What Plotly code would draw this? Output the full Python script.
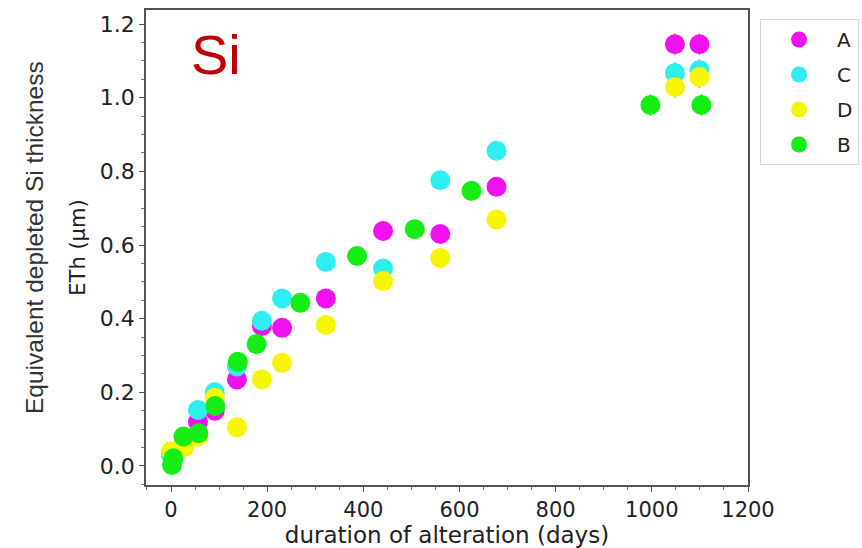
import plotly.graph_objects as go

# ---- data ----
a_days = [0, 28, 56, 91, 137, 189, 231, 322, 441, 560, 677, 1048, 1099]
a_eth = [0.035, 0.07, 0.12, 0.15, 0.235, 0.38, 0.375, 0.455, 0.638, 0.63, 0.758, 1.145, 1.145]
a_err = [0.01, 0.01, 0.01, 0.01, 0.01, 0.01, 0.01, 0.01, 0.01, 0.01, 0.01, 0.03, 0.03]

c_days = [0, 28, 56, 91, 137, 189, 231, 322, 441, 560, 677, 1048, 1099]
c_eth = [0.03, 0.06, 0.152, 0.2, 0.27, 0.394, 0.455, 0.554, 0.536, 0.776, 0.856, 1.067, 1.075]
c_err = [0.01, 0.01, 0.01, 0.01, 0.01, 0.01, 0.01, 0.01, 0.01, 0.01, 0.01, 0.03, 0.03]

d_days = [0, 28, 56, 91, 137, 189, 231, 322, 441, 560, 677, 1048, 1099]
d_eth = [0.04, 0.052, 0.08, 0.185, 0.105, 0.235, 0.28, 0.383, 0.502, 0.565, 0.669, 1.029, 1.056]
d_err = [0.01, 0.01, 0.01, 0.01, 0.01, 0.01, 0.01, 0.01, 0.01, 0.01, 0.01, 0.03, 0.03]

b_days = [2, 5, 26, 57, 92, 139, 178, 269, 387, 507, 625, 997, 1103]
b_eth = [0.003, 0.021, 0.08, 0.089, 0.163, 0.283, 0.331, 0.443, 0.57, 0.643, 0.747, 0.98, 0.98]
b_err = [0.01, 0.01, 0.01, 0.01, 0.01, 0.01, 0.01, 0.01, 0.01, 0.01, 0.01, 0.03, 0.03]

series = [
    ("A", a_days, a_eth, a_err, "#F011F0"),
    ("C", c_days, c_eth, c_err, "#2EEEF0"),
    ("D", d_days, d_eth, d_err, "#F6F600"),
    ("B", b_days, b_eth, b_err, "#14EE14"),
]

x_ticks = [0, 200, 400, 600, 800, 1000, 1200]
y_ticks = [0.0, 0.2, 0.4, 0.6, 0.8, 1.0, 1.2]

fig = go.Figure()
for name, xs, ys, es, col in series:
    fig.add_trace(go.Scatter(
        x=xs, y=ys, mode="markers", name=name, legendgroup=name,
        marker=dict(size=20, color=col, line=dict(width=0)),
        error_y=dict(type="data", array=es, visible=True, thickness=1,
                     width=0, color="#888888"),
    ))

font_main = "DejaVu Sans"
fig.update_layout(
    width=862, height=548,
    margin=dict(l=146, r=114, t=10, b=63, autoexpand=False),
    plot_bgcolor="white", paper_bgcolor="white",
    showlegend=True,
    legend=dict(
        x=(760 - 146) / 602, y=(485 - 19) / 475, xanchor="left", yanchor="top",
        bordercolor="#D5D5D5", borderwidth=1, bgcolor="white",
        font=dict(family=font_main, size=20, color="#222222"),
        traceorder="grouped", tracegroupgap=6, itemwidth=66,
    ),
    xaxis=dict(
        range=[-52, 1200], tickvals=x_ticks, ticktext=[str(v) for v in x_ticks],
        showgrid=False, zeroline=False, automargin=False,
        showline=True, linecolor="#555555", linewidth=1.5, mirror=True,
        ticks="outside", ticklen=5, tickcolor="#555555",
        minor=dict(dtick=50, tick0=0, ticks="outside", ticklen=3, tickcolor="#777777"),
        tickfont=dict(family=font_main, size=21, color="#222222"),
        title=dict(text="duration of alteration (days)", standoff=5,
                   font=dict(family=font_main, size=23, color="#222222")),
    ),
    yaxis=dict(
        range=[-0.0516, 1.238], tickvals=y_ticks, ticktext=["%.1f" % v for v in y_ticks],
        showgrid=False, zeroline=False, automargin=False,
        showline=True, linecolor="#555555", linewidth=1.5, mirror=True,
        ticks="outside", ticklen=5, tickcolor="#555555",
        minor=dict(dtick=0.05, tick0=0, ticks="outside", ticklen=3, tickcolor="#777777"),
        tickfont=dict(family=font_main, size=22, color="#222222"),
        title=dict(text="ETh (µm)", standoff=8,
                   font=dict(family=font_main, size=21, color="#222222")),
    ),
)

fig.add_annotation(
    text="Equivalent depleted Si thickness", textangle=-90,
    xref="paper", yref="paper", x=(34 - 146) / 602, y=(485 - 238) / 475,
    xanchor="center", yanchor="middle",
    showarrow=False, font=dict(family="Liberation Sans", size=24.5, color="#333333"),
)
fig.add_annotation(
    text="Si", xref="paper", yref="paper",
    x=(216 - 146) / 602, y=(485 - 55) / 475, xanchor="center", yanchor="middle",
    showarrow=False, font=dict(family="Liberation Sans", size=56, color="#C00000"),
)

fig.write_html("out.html")
